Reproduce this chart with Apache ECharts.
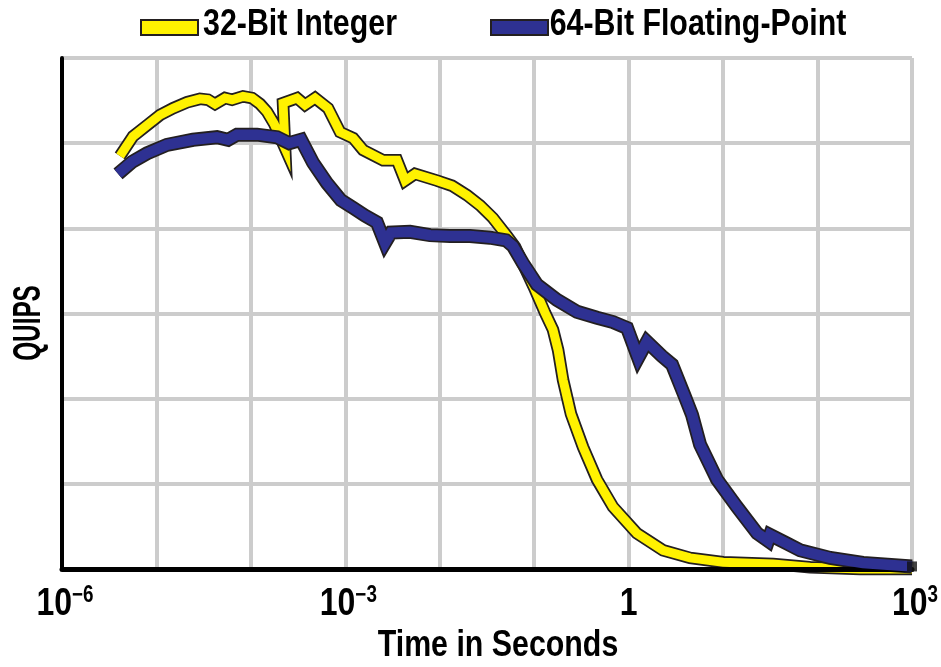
<!DOCTYPE html>
<html>
<head>
<meta charset="utf-8">
<script src="https://cdn.jsdelivr.net/npm/echarts@6/dist/echarts.min.js"></script>
<style>
  html, body { margin: 0; padding: 0; background: #ffffff; overflow: hidden; }
  #chart { width: 941px; height: 667px; }
</style>
</head>
<body>
<div id="chart"></div>
<script>
// Series names
const seriesNames = ['32-Bit Integer', '64-Bit Floating-Point'];

// 32-bit integer benchmark: time (s) and QUIPS
const intTime = [4.11e-6, 5.65e-6, 7.94e-6, 1.09e-5, 1.50e-5, 2.11e-5, 2.89e-5, 3.52e-5, 4.17e-5, 5.32e-5,
  6.31e-5, 8.26e-5, 1.03e-4, 1.25e-4, 1.48e-4, 1.76e-4, 2.30e-4, 2.19e-4, 3.08e-4, 3.74e-4,
  4.78e-4, 6.56e-4, 8.79e-4, 1.21e-3, 1.54e-3, 2.51e-3, 3.52e-3, 4.29e-3, 5.47e-3, 9.35e-3,
  1.35e-2, 1.94e-2, 2.67e-2, 3.66e-2, 5.15e-2, 6.27e-2, 8.00e-2, 0.102, 0.130, 0.158,
  0.179, 0.202, 0.245, 0.329, 0.462, 0.682, 1.22, 2.31, 4.47, 10,
  33.8, 83.2, 282, 1000];
const intQuips = [4.85, 5.08, 5.21, 5.33, 5.41, 5.48, 5.52, 5.51, 5.46, 5.53,
  5.51, 5.55, 5.53, 5.46, 5.37, 5.23, 4.94, 5.47, 5.53, 5.45,
  5.53, 5.41, 5.13, 5.06, 4.92, 4.80, 4.80, 4.56, 4.64, 4.56,
  4.50, 4.39, 4.27, 4.12, 3.91, 3.78, 3.53, 3.28, 3.01, 2.81,
  2.57, 2.22, 1.82, 1.43, 1.05, 0.73, 0.42, 0.22, 0.13, 0.08,
  0.06, 0.02, 0.0, 0.0];

// 64-bit floating-point benchmark: time (s) and QUIPS
const fpTime = [3.92e-6, 5.51e-6, 7.94e-6, 1.29e-5, 2.44e-5, 4.38e-5, 5.73e-5, 7.13e-5, 1.16e-4, 1.89e-4,
  2.54e-4, 3.40e-4, 4.55e-4, 6.40e-4, 8.99e-4, 1.21e-3, 1.61e-3, 2.16e-3, 2.63e-3, 3.05e-3,
  4.84e-3, 7.89e-3, 1.28e-2, 2.09e-2, 3.40e-2, 5.02e-2, 5.96e-2, 7.60e-2, 0.107, 0.174,
  0.284, 0.462, 0.682, 0.962, 1.26, 1.56, 2.25, 2.88, 3.95, 4.69,
  5.70, 8.63, 14.0, 22.9, 29.9, 31.4, 45.3, 65.2, 136, 303, 1000];
const fpQuips = [4.64, 4.78, 4.88, 4.98, 5.04, 5.07, 5.04, 5.10, 5.10, 5.07,
  5.00, 5.04, 4.77, 4.53, 4.33, 4.24, 4.15, 4.07, 3.83, 3.95,
  3.96, 3.92, 3.91, 3.91, 3.89, 3.86, 3.79, 3.59, 3.34, 3.16,
  3.02, 2.95, 2.90, 2.83, 2.48, 2.67, 2.50, 2.40, 2.02, 1.81,
  1.46, 1.05, 0.73, 0.42, 0.33, 0.40, 0.31, 0.22, 0.13, 0.07, 0.03];

// Decades that carry a tick label on the time axis
const labeledTimes = [1e-6, 1e-3, 1, 1e3];

const FONT = "'Liberation Sans', Arial, Helvetica, sans-serif";
const CONDENSE = 0.82;           // horizontal squeeze giving a condensed bold face
const OUTLINE = '#231F20';
const YELLOW = '#FFF200';
const NAVY = '#2E3192';

const pairs = (xs, ys) => xs.map((x, i) => [x, ys[i]]);
const intData = pairs(intTime, intQuips);
const fpData = pairs(fpTime, fpQuips);

// Each curve is a dark wide stroke with the coloured stroke laid over it
function outlineSeries(data, width, z) {
  return {
    type: 'line', data, z, silent: true, showSymbol: false, clip: false,
    lineStyle: { color: OUTLINE, width, join: 'miter', miterLimit: 10, cap: 'butt' }
  };
}
function fillSeries(name, data, color, width, z, extra) {
  return Object.assign({
    type: 'line', name, data, z, showSymbol: false, clip: false,
    itemStyle: { color },
    lineStyle: { color, width, join: 'miter', miterLimit: 10, cap: 'butt' }
  }, extra || {});
}
// One legend box per series; its caption is drawn as condensed text beside it
function legendFor(name, color, left) {
  return {
    left, top: 19, padding: 0,
    itemWidth: 57, itemHeight: 15,
    formatter: () => '',
    textStyle: { fontSize: 1 },
    data: [{ name, icon: 'rect', itemStyle: { color, borderColor: OUTLINE, borderWidth: 2 } }]
  };
}
function condensedText(text, x, y, size, extra) {
  return Object.assign({
    type: 'text', x, y, scaleX: CONDENSE, silent: true,
    style: { text, fontFamily: FONT, fontWeight: 'bold', fontSize: size, fill: '#000',
      align: 'center', verticalAlign: 'middle' }
  }, extra || {});
}

const chart = echarts.init(document.getElementById('chart'), null, { renderer: 'canvas' });

chart.setOption({
  animation: false,
  backgroundColor: '#ffffff',
  grid: { left: 62, top: 58, width: 850, height: 511, containLabel: false },
  legend: [
    legendFor(seriesNames[0], YELLOW, 140),
    legendFor(seriesNames[1], NAVY, 490)
  ],
  xAxis: {
    type: 'log', logBase: 10, min: 1e-6, max: 1e3, splitNumber: 9,
    axisLine: { show: true, onZero: false, lineStyle: { color: '#000', width: 5 } },
    axisTick: { show: false },
    axisLabel: { show: false },
    splitLine: { show: true, lineStyle: { color: '#cccccc', width: 4 } }
  },
  yAxis: {
    type: 'value', min: 0, max: 6, interval: 1,
    axisLine: { show: true, lineStyle: { color: '#000', width: 4 } },
    axisTick: { show: false },
    axisLabel: { show: false },
    splitLine: { show: true, lineStyle: { color: '#cccccc', width: 4 } }
  },
  series: [
    outlineSeries(intData, 12.5, 2),
    fillSeries(seriesNames[0], intData, YELLOW, 9, 3, {
      // baseline redrawn over the integer curve where it runs along zero
      markLine: {
        silent: true, symbol: 'none', label: { show: false },
        lineStyle: { color: '#000', width: 5, type: 'solid' },
        data: [{ yAxis: 0 }]
      }
    }),
    outlineSeries(fpData, 14, 4),
    fillSeries(seriesNames[1], fpData, NAVY, 10.5, 5),
    {
      type: 'scatter', silent: true, z: 6,
      data: [fpData[fpData.length - 1]],
      symbol: 'rect', symbolSize: 10,
      itemStyle: { color: '#111' }
    }
  ]
});

// Text: decade labels placed through the time axis, legend captions and axis titles
const axisY = chart.convertToPixel({ yAxisIndex: 0 }, 0);
const tickTexts = labeledTimes.map(t => {
  const e = Math.round(Math.log10(t));
  const txt = e === 0 ? '{b|1}' : '{b|10}{s|' + (e < 0 ? '\u2212' : '') + Math.abs(e) + '}';
  return {
    type: 'text', silent: true, scaleX: CONDENSE,
    x: chart.convertToPixel({ xAxisIndex: 0 }, t) + (e === 0 ? 0 : 3),
    y: axisY + 15,
    style: {
      text: txt, align: 'center', verticalAlign: 'top',
      rich: {
        b: { fontFamily: FONT, fontWeight: 'bold', fontSize: 39, lineHeight: 40, fill: '#000' },
        s: { fontFamily: FONT, fontWeight: 'bold', fontSize: 23, lineHeight: 24, fill: '#000', verticalAlign: 'top' }
      }
    }
  };
});

chart.setOption({
  graphic: tickTexts.concat([
    condensedText(seriesNames[0], 300, 25, 37),
    condensedText(seriesNames[1], 698, 25, 37),
    condensedText('Time in Seconds', 498, 646, 37),
    condensedText('QUIPS', 30, 323, 38, { rotation: Math.PI / 2, scaleX: 0.64 })
  ])
});
</script>
</body>
</html>
